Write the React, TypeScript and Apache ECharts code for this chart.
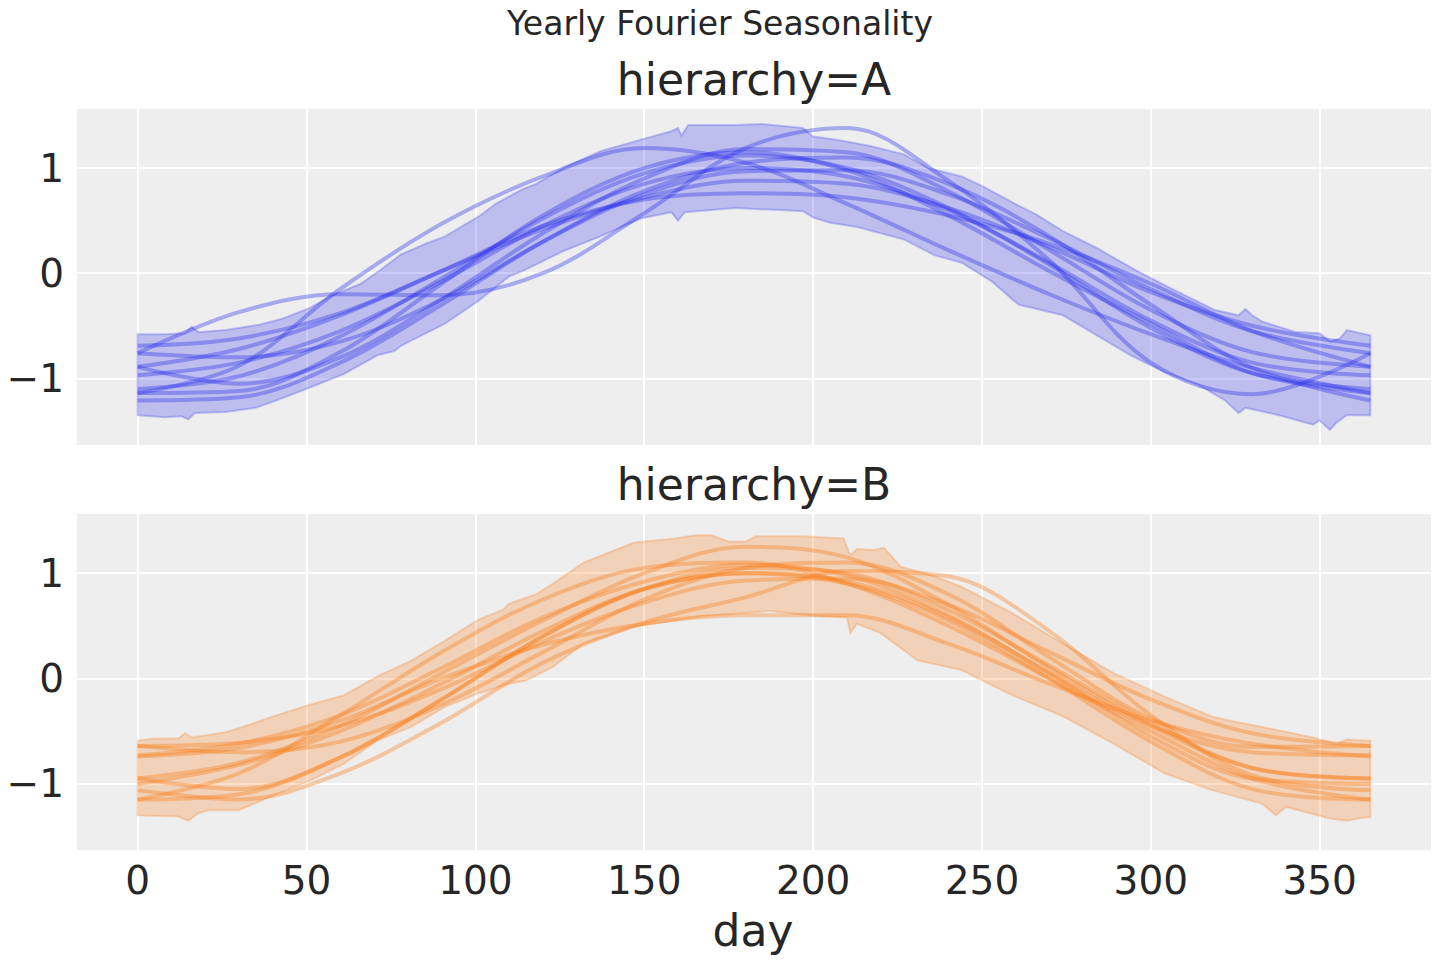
import React, { useEffect, useRef } from "react";
import * as echarts from "echarts";

const TITLE = "Yearly Fourier Seasonality";
const PANEL_TITLES = ["hierarchy=A", "hierarchy=B"];
const X_LABEL = "day";

const DAYS = [0, 30, 60, 90, 120, 150, 180, 210, 240, 270, 300, 330, 365];

// hierarchy A sample curves
const A1 = [-0.76, -0.37, -0.2, -0.21, 0.0, 0.57, 1.19, 1.38, 0.88, 0.12, -0.85, -1.15, -0.76];
const A2 = [-1.14, -0.88, -0.15, 0.47, 0.92, 1.19, 1.05, 0.66, 0.22, -0.2, -0.58, -0.9, -1.14];
const A3 = [-0.69, -0.62, -0.38, 0.02, 0.42, 0.72, 0.88, 0.85, 0.62, 0.25, -0.18, -0.5, -0.69];
const A4 = [-0.89, -1.05, -0.8, -0.25, 0.38, 0.9, 1.18, 1.15, 0.78, 0.22, -0.35, -0.75, -0.89];
const A5 = [-0.97, -0.85, -0.55, -0.08, 0.45, 0.85, 1.0, 0.92, 0.6, 0.1, -0.45, -0.85, -0.97];
const A6 = [-1.21, -1.18, -0.85, -0.3, 0.3, 0.78, 1.05, 1.1, 0.85, 0.35, -0.3, -0.9, -1.21];
const A7 = [-0.76, -0.8, -0.65, -0.25, 0.3, 0.75, 0.97, 0.98, 0.75, 0.33, -0.15, -0.55, -0.76];
const A8 = [-1.1, -0.98, -0.6, -0.05, 0.52, 0.95, 1.12, 1.0, 0.62, 0.08, -0.52, -0.95, -1.1];
const A9 = [-0.89, -0.72, -0.4, 0.02, 0.45, 0.7, 0.76, 0.72, 0.55, 0.28, -0.1, -0.55, -0.89];
const A10 = [-1.14, -1.12, -0.75, -0.1, 0.55, 1.0, 1.15, 0.98, 0.55, 0.02, -0.48, -0.95, -1.14];

// hierarchy B sample curves
const B1 = [-1.06, -1.15, -0.9, -0.42, 0.15, 0.53, 0.77, 1.02, 0.97, 0.45, -0.35, -0.92, -1.06];
const B2 = [-0.95, -0.8, -0.45, 0.05, 0.55, 1.0, 1.25, 1.15, 0.7, 0.1, -0.45, -0.85, -0.95];
const B3 = [-0.64, -0.61, -0.45, -0.1, 0.35, 0.72, 0.93, 0.95, 0.7, 0.25, -0.2, -0.52, -0.64];
const B4 = [-0.74, -0.66, -0.4, 0.0, 0.32, 0.52, 0.6, 0.6, 0.33, -0.05, -0.4, -0.62, -0.74];
const B5 = [-1.15, -0.9, -0.35, 0.25, 0.75, 1.05, 1.1, 0.9, 0.5, 0.0, -0.5, -0.95, -1.15];
const B6 = [-0.95, -1.05, -0.75, -0.2, 0.4, 0.85, 1.05, 1.0, 0.65, 0.12, -0.42, -0.85, -0.95];
const B7 = [-1.0, -0.82, -0.5, -0.05, 0.45, 0.85, 1.0, 0.92, 0.58, 0.05, -0.55, -0.95, -1.0];
const B8 = [-0.64, -0.7, -0.6, -0.25, 0.25, 0.75, 1.05, 1.1, 0.8, 0.2, -0.38, -0.65, -0.64];
const B9 = [-1.15, -1.1, -0.75, -0.2, 0.4, 0.85, 1.0, 0.9, 0.55, 0.0, -0.6, -1.05, -1.15];
const B10 = [-0.73, -0.62, -0.35, 0.1, 0.58, 0.92, 1.08, 0.98, 0.6, 0.05, -0.45, -0.7, -0.73];

// HDI band edges [day, value]
const A_UPPER = [
  [0, -0.58], [8, -0.58], [14, -0.57], [16, -0.51], [18, -0.56], [26, -0.54], [36, -0.49], [43, -0.43],
  [51, -0.33], [57, -0.22], [66, -0.1], [71, 0.01], [78, 0.18], [86, 0.29], [91, 0.35], [101, 0.54],
  [106, 0.66], [114, 0.8], [118, 0.85], [126, 1.0], [137, 1.16], [149, 1.27], [158, 1.35], [160, 1.38],
  [161, 1.31], [163, 1.41], [177, 1.41], [185, 1.42], [197, 1.38], [200, 1.3], [207, 1.27], [217, 1.21],
  [227, 1.13], [234, 1.0], [244, 0.92], [250, 0.83], [261, 0.64], [266, 0.56], [274, 0.4], [284, 0.24],
  [296, 0.02], [307, -0.16], [319, -0.35], [326, -0.4], [328, -0.34], [330, -0.4], [333, -0.46],
  [343, -0.56], [350, -0.57], [353, -0.65], [356, -0.62], [358, -0.54], [365, -0.59],
];
const A_LOWER = [
  [0, -1.35], [8, -1.37], [13, -1.36], [15, -1.39], [17, -1.33], [26, -1.32], [35, -1.28], [41, -1.21],
  [50, -1.1], [61, -0.96], [71, -0.78], [76, -0.74], [78, -0.69], [81, -0.64], [91, -0.48], [101, -0.26],
  [110, -0.03], [114, 0.02], [126, 0.21], [137, 0.35], [149, 0.52], [158, 0.58], [160, 0.5], [162, 0.58],
  [177, 0.62], [190, 0.6], [197, 0.59], [200, 0.53], [205, 0.48], [213, 0.44], [227, 0.32], [236, 0.17],
  [244, 0.1], [253, -0.08], [259, -0.25], [261, -0.3], [274, -0.4], [284, -0.59], [294, -0.78],
  [304, -0.94], [314, -1.06], [322, -1.21], [326, -1.33], [328, -1.28], [338, -1.35], [348, -1.44],
  [350, -1.4], [353, -1.49], [355, -1.42], [358, -1.35], [365, -1.35],
];
const B_UPPER = [
  [0, -0.59], [5, -0.57], [12, -0.57], [14, -0.52], [16, -0.56], [26, -0.51], [33, -0.44], [41, -0.35],
  [51, -0.25], [61, -0.16], [71, 0.02], [81, 0.17], [91, 0.36], [101, 0.56], [108, 0.65], [110, 0.71],
  [118, 0.8], [123, 0.9], [132, 1.1], [147, 1.29], [159, 1.33], [165, 1.36], [170, 1.36], [175, 1.3],
  [180, 1.3], [183, 1.35], [197, 1.35], [209, 1.33], [211, 1.17], [213, 1.23], [218, 1.22], [221, 1.24],
  [226, 1.06], [236, 0.97], [244, 0.87], [259, 0.62], [274, 0.33], [289, 0.05], [304, -0.17],
  [318, -0.36], [325, -0.41], [333, -0.46], [348, -0.56], [355, -0.62], [358, -0.58], [365, -0.59],
];
const B_LOWER = [
  [0, -1.3], [12, -1.31], [15, -1.35], [18, -1.28], [21, -1.25], [30, -1.25], [33, -1.21], [41, -1.1],
  [51, -0.97], [61, -0.81], [71, -0.59], [81, -0.46], [91, -0.27], [101, -0.14], [110, -0.05],
  [115, -0.02], [123, 0.11], [132, 0.33], [147, 0.49], [167, 0.59], [187, 0.64], [202, 0.59], [210, 0.58],
  [211, 0.43], [213, 0.52], [220, 0.43], [231, 0.17], [244, 0.08], [259, -0.16], [274, -0.36],
  [289, -0.62], [304, -0.9], [318, -1.06], [333, -1.19], [337, -1.3], [340, -1.22], [353, -1.33],
  [358, -1.35], [363, -1.32], [365, -1.32],
];

const X_MIN = -18.25;
const X_MAX = 383.25;
const Y_MIN = -1.638;
const Y_MAX = 1.571;

const BLUE = "42,46,236";
const ORANGE = "250,124,23";
const FONT = "DejaVu Sans";
const TEXT = "#262626";

export default function App() {
  const ref = useRef<HTMLDivElement>(null);
  useEffect(() => {
    if (!ref.current) return;
    const chart = echarts.init(ref.current, undefined, { renderer: "svg" });

    const xAxisBase = (idx: number, showLabel: boolean) => ({
      type: "value",
      gridIndex: idx,
      min: X_MIN,
      max: X_MAX,
      splitNumber: 8,
      axisLine: { show: false },
      axisTick: { show: false },
      splitLine: { show: true, lineStyle: { color: "#ffffff", width: 2 } },
      axisLabel: {
        show: showLabel,
        fontFamily: FONT,
        fontSize: 39,
        color: TEXT,
        margin: 10,
        showMinLabel: false,
        showMaxLabel: false,
        formatter: (v: number) => (v >= 0 && Math.abs(v % 50) < 1e-9 ? String(v) : ""),
      },
    });
    const yAxisBase = (idx: number) => ({
      type: "value",
      gridIndex: idx,
      min: Y_MIN,
      max: Y_MAX,
      splitNumber: 3,
      axisLine: { show: false },
      axisTick: { show: false },
      splitLine: { show: true, lineStyle: { color: "#ffffff", width: 2 } },
      axisLabel: {
        fontFamily: FONT,
        fontSize: 39,
        color: TEXT,
        margin: 12,
        showMinLabel: false,
        showMaxLabel: false,
        formatter: (v: number) =>
          Math.abs(v - Math.round(v)) < 1e-9 ? (v < 0 ? "\u2212" + String(-v) : String(v)) : "",
      },
    });

    const band = (idx: number, upper: number[][], lower: number[][], rgb: string) => ({
      type: "custom",
      xAxisIndex: idx,
      yAxisIndex: idx,
      silent: true,
      clip: true,
      z: 1,
      data: [[0, 0]],
      renderItem: (_p: any, api: any) => {
        const pts = [
          ...upper.map((p) => api.coord(p)),
          ...lower.slice().reverse().map((p) => api.coord(p)),
        ];
        return {
          type: "polygon",
          shape: { points: pts },
          style: { fill: `rgba(${rgb},0.25)`, stroke: `rgba(${rgb},0.25)`, lineWidth: 2 },
        };
      },
    });

    const lineSeries = (idx: number, vals: number[], rgb: string) => ({
      type: "line",
      xAxisIndex: idx,
      yAxisIndex: idx,
      data: DAYS.map((d, i) => [d, vals[i]]),
      smooth: 0.35,
      showSymbol: false,
      silent: true,
      z: 2,
      lineStyle: { width: 4, color: `rgba(${rgb},0.36)` },
    });

    const aLines = [A1, A2, A3, A4, A5, A6, A7, A8, A9, A10];
    const bLines = [B1, B2, B3, B4, B5, B6, B7, B8, B9, B10];

    chart.setOption({
      animation: false,
      backgroundColor: "#ffffff",
      grid: [
        { left: 76, top: 108, width: 1356, height: 337.5, backgroundColor: "#eeeeee", show: true, borderWidth: 0 },
        { left: 76, top: 513, width: 1356, height: 338, backgroundColor: "#eeeeee", show: true, borderWidth: 0 },
      ],
      xAxis: [xAxisBase(0, false), xAxisBase(1, true)],
      yAxis: [yAxisBase(0), yAxisBase(1)],
      series: [
        band(0, A_UPPER, A_LOWER, BLUE),
        ...aLines.map((l) => lineSeries(0, l, BLUE)),
        band(1, B_UPPER, B_LOWER, ORANGE),
        ...bLines.map((l) => lineSeries(1, l, ORANGE)),
      ],
      graphic: [
        {
          type: "text",
          x: 720,
          y: 23,
          style: { text: TITLE, fontFamily: FONT, fontSize: 33, fill: TEXT, align: "center", verticalAlign: "middle" },
        },
        {
          type: "text",
          x: 754,
          y: 79,
          style: { text: PANEL_TITLES[0], fontFamily: FONT, fontSize: 44, fill: TEXT, align: "center", verticalAlign: "middle" },
        },
        {
          type: "text",
          x: 754,
          y: 484,
          style: { text: PANEL_TITLES[1], fontFamily: FONT, fontSize: 44, fill: TEXT, align: "center", verticalAlign: "middle" },
        },
        {
          type: "text",
          x: 753,
          y: 930,
          style: { text: X_LABEL, fontFamily: FONT, fontSize: 44, fill: TEXT, align: "center", verticalAlign: "middle" },
        },
      ],
    });
    return () => chart.dispose();
  }, []);
  return <div ref={ref} style={{ position: "absolute", left: 0, top: 0, width: 1440, height: 960 }} />;
}
